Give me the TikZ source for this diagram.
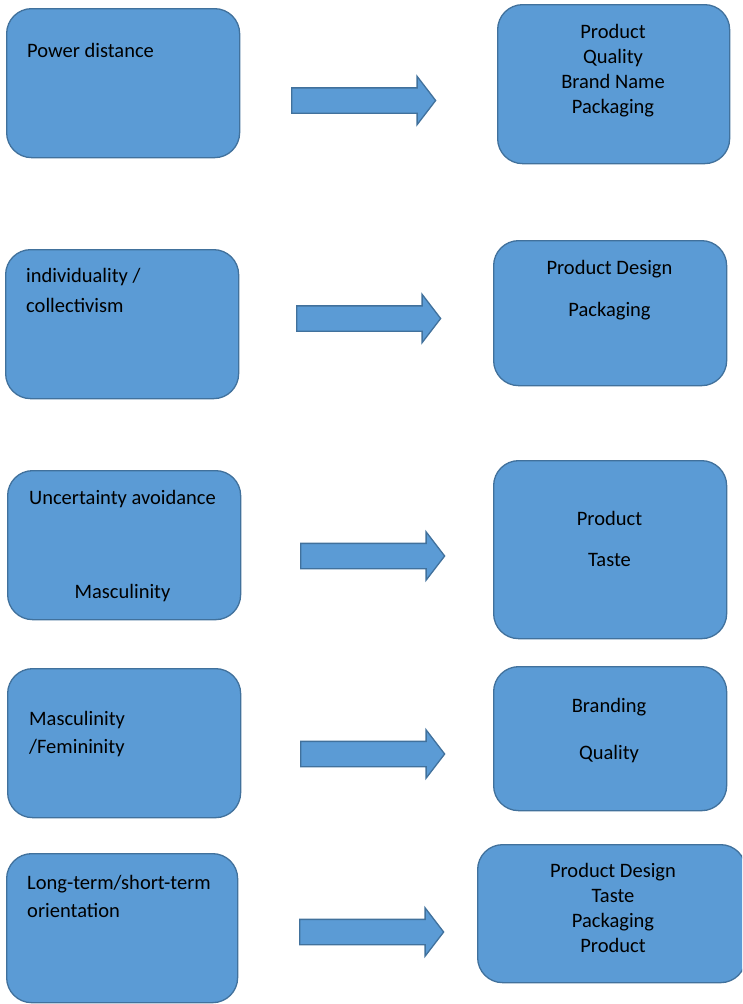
\documentclass[tikz,border=0pt]{standalone}
\usepackage{fontspec}
\setmainfont{Carlito}
\usepackage{tikz}
\usetikzlibrary{shapes.arrows}
\definecolor{boxblue}{HTML}{5B9BD5}
\definecolor{boxline}{HTML}{41719C}
\tikzstyle{dimbox} = [rectangle, rounded corners=25pt, draw=boxline, fill=boxblue, line width=1.3pt, anchor=north west, inner sep=0pt]
\tikzstyle{label} = [inner sep=0pt, font=\fontsize{20.5}{25}\selectfont, text=black]
\tikzstyle{blockarrow} = [single arrow, draw=boxline, fill=boxblue, line width=1.3pt, minimum height=144pt, inner sep=12pt, single arrow head extend=11.5pt, single arrow tip angle=105, single arrow head indent=0pt, anchor=tail]

\begin{document}
\begin{tikzpicture}[x=1pt, y=-1pt]
		\clip (0,0) rectangle (742,1004);
		\useasboundingbox (0,0) rectangle (742,1004);
		% cultural dimensions
		\node (pdist) [dimbox, minimum width=233pt, minimum height=149pt] at (6,8) {};
		\node (indiv) [dimbox, minimum width=233pt, minimum height=149pt] at (5,249) {};
		\node (uncert) [dimbox, minimum width=233pt, minimum height=149pt] at (7,470) {};
		\node (masc) [dimbox, minimum width=233pt, minimum height=149pt] at (7,668) {};
		\node (lterm) [dimbox, minimum width=231pt, minimum height=149pt] at (6,853) {};
		% product attributes
		\node (attr1) [dimbox, minimum width=232pt, minimum height=159pt] at (497,4) {};
		\node (attr2) [dimbox, minimum width=233pt, minimum height=145pt] at (493,240) {};
		\node (attr3) [dimbox, minimum width=233pt, minimum height=178pt] at (493,460) {};
		\node (attr4) [dimbox, minimum width=233pt, minimum height=144pt] at (493,666) {};
		\node (attr5) [dimbox, minimum width=268pt, minimum height=138pt] at (477,844) {};
		% texts (base = last line)
		\node (tpdist) [label, anchor=base west] at (27,57) {Power distance};
		\node (tindiv) [label, anchor=base west, align=left] at (26,312) {individuality /\\[5pt]collectivism};
		\node (tuncert) [label, anchor=base, align=center] at (122.5,598) {Uncertainty avoidance\\[69pt]Masculinity};
		\node (tmasc) [label, anchor=base west, align=left] at (29,753) {Masculinity\\[3pt]/Femininity};
		\node (tlterm) [label, anchor=base west, align=left] at (27,917) {Long-term/short-term\\[3pt]orientation};
		\node (tattr1) [label, anchor=base, align=center] at (613,113.5) {Product\\Quality\\Brand Name\\Packaging};
		\node (tattr2) [label, anchor=base, align=center] at (609.5,316) {Product Design\\[17pt]Packaging};
		\node (tattr3) [label, anchor=base, align=center] at (609.5,566) {Product\\[16pt]Taste};
		\node (tattr4) [label, anchor=base, align=center] at (609,759) {Branding\\[22pt]Quality};
		\node (tattr5) [label, anchor=base, align=center] at (613,952) {Product Design\\Taste\\Packaging\\Product};
		% block arrows
		\node (arr1) [blockarrow] at (291,100.5) {};
		\node (arr2) [blockarrow] at (296,318.5) {};
		\node (arr3) [blockarrow] at (300,556) {};
		\node (arr4) [blockarrow] at (300,754) {};
		\node (arr5) [blockarrow] at (299,932) {};
	\end{tikzpicture}
\end{document}
